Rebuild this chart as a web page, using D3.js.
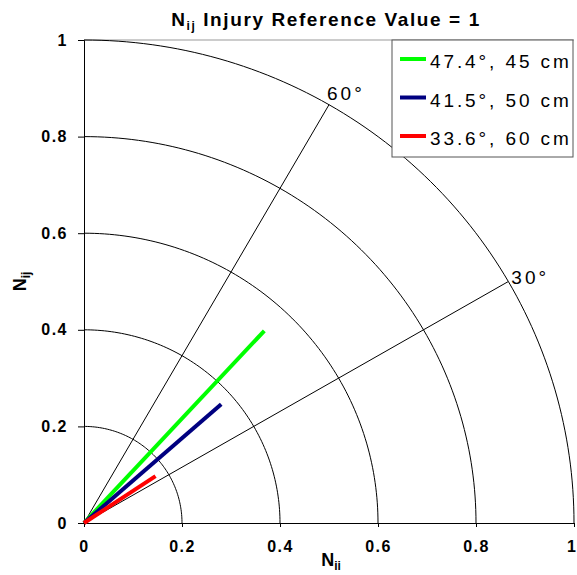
<!DOCTYPE html>
<html>
<head>
<meta charset="utf-8">
<script src="https://cdn.jsdelivr.net/npm/d3@7"></script>
<style>
  body { margin: 0; background: #fff; }
  text { font-family: "Liberation Sans", Arial, sans-serif; }
</style>
</head>
<body>
<div id="chart"></div>
<script>
// values
const ticks = [0, 0.2, 0.4, 0.6, 0.8, 1];
const radii = [0.2, 0.4, 0.6, 0.8, 1];
const guideAngles = [30, 60];
const seriesNames = ['47.4°, 45 cm', '41.5°, 50 cm', '33.6°, 60 cm'];
const seriesColors = ['#00ff00', '#000080', '#ff0000'];
const endX = [0.368, 0.28, 0.146];
const endY = [0.398, 0.246, 0.097];

const W = 577, H = 575;
const margin = {t: 40, r: 3, b: 52, l: 84};
const rad = a => a * Math.PI / 180;

const svg = d3.select('#chart').append('svg')
  .attr('width', W).attr('height', H);

const x = d3.scaleLinear().domain([0, 1]).range([margin.l, W - margin.r]);
const y = d3.scaleLinear().domain([0, 1]).range([H - margin.b, margin.t]);

// top border of plot area
svg.append('line')
  .attr('x1', x(0)).attr('x2', x(1))
  .attr('y1', y(1)).attr('y2', y(1))
  .attr('stroke', '#999').attr('stroke-width', 1);

// quarter circles
const arcLine = d3.line().x(d => x(d[0])).y(d => y(d[1]));
const steps = d3.range(0, 91, 1);
svg.selectAll('.ring')
  .data(radii)
  .enter().append('path')
  .attr('class', 'ring')
  .attr('d', r => arcLine(steps.map(a => [r * Math.cos(rad(a)), r * Math.sin(rad(a))])))
  .attr('fill', 'none').attr('stroke', '#000').attr('stroke-width', 1);

// 30 / 60 degree guides
svg.selectAll('.guide')
  .data(guideAngles)
  .enter().append('line')
  .attr('class', 'guide')
  .attr('x1', x(0)).attr('y1', y(0))
  .attr('x2', a => x(Math.cos(rad(a))))
  .attr('y2', a => y(Math.sin(rad(a))))
  .attr('stroke', '#000').attr('stroke-width', 1);

const labelOffset = {30: [3, 2], 60: [-2, -5]};
svg.selectAll('.guide-label')
  .data(guideAngles)
  .enter().append('text')
  .attr('class', 'guide-label')
  .attr('x', a => x(Math.cos(rad(a))) + labelOffset[a][0])
  .attr('y', a => y(Math.sin(rad(a))) + labelOffset[a][1])
  .attr('font-size', 19).attr('letter-spacing', 3)
  .text(a => a + '°');

// axes
const xAxis = svg.append('g')
  .attr('transform', `translate(0,${y(0)})`)
  .call(d3.axisBottom(x).tickValues(ticks).tickFormat(d3.format('')).tickSizeOuter(0).tickSize(4).tickPadding(14));
const yAxis = svg.append('g')
  .attr('transform', `translate(${x(0)},0)`)
  .call(d3.axisLeft(y).tickValues(ticks).tickFormat(d3.format('')).tickSizeOuter(0).tickSize(6).tickPadding(10));
[xAxis, yAxis].forEach(g => {
  g.select('.domain').attr('stroke', '#000');
  g.selectAll('.tick line').attr('stroke', '#000');
  g.selectAll('.tick text')
    .attr('font-family', '"Liberation Sans", Arial, sans-serif')
    .attr('font-size', 16).attr('font-weight', 'bold').attr('fill', '#000')
    .attr('letter-spacing', 1.5);
});
xAxis.selectAll('.tick text').attr('dy', '0.71em');
xAxis.selectAll('.tick text').filter(d => d === 1).attr('dx', -3).attr('letter-spacing', null);

// series lines from the origin
svg.selectAll('.series')
  .data(seriesNames)
  .enter().append('line')
  .attr('class', 'series')
  .attr('x1', x(0)).attr('y1', y(0))
  .attr('x2', (d, i) => x(endX[i]))
  .attr('y2', (d, i) => y(endY[i]))
  .attr('stroke', (d, i) => seriesColors[i])
  .attr('stroke-width', 4);

// title
const title = svg.append('text')
  .attr('x', 326).attr('y', 26)
  .attr('text-anchor', 'middle')
  .attr('font-size', 19).attr('font-weight', 'bold').attr('letter-spacing', 1.6);
title.append('tspan').text('N');
title.append('tspan').attr('font-size', 12).attr('dy', 4).text('ij');
title.append('tspan').attr('dy', -4).text(' Injury Reference Value = 1');

// axis titles
const xt = svg.append('text')
  .attr('x', 331).attr('y', 566)
  .attr('text-anchor', 'middle')
  .attr('font-size', 18).attr('font-weight', 'bold');
xt.append('tspan').text('N');
xt.append('tspan').attr('font-size', 12).attr('dy', 4).text('ii');

const yt = svg.append('text')
  .attr('transform', `translate(26,${(y(0) + y(1)) / 2}) rotate(-90)`)
  .attr('text-anchor', 'middle')
  .attr('font-size', 18).attr('font-weight', 'bold');
yt.append('tspan').text('N');
yt.append('tspan').attr('font-size', 12).attr('dy', 4).text('ij');

// legend
const legend = svg.append('g').attr('transform', 'translate(392,40)');
legend.append('rect')
  .attr('width', 181).attr('height', 117)
  .attr('fill', '#fff').attr('stroke', '#555').attr('stroke-width', 1);
const rows = legend.selectAll('.row')
  .data(seriesNames)
  .enter().append('g')
  .attr('transform', (d, i) => `translate(0,${19 + i * 38.5})`);
rows.append('line')
  .attr('x1', 8).attr('x2', 34)
  .attr('stroke', (d, i) => seriesColors[i])
  .attr('stroke-width', 4);
rows.append('text')
  .attr('x', 38).attr('y', 9)
  .attr('font-size', 19).attr('letter-spacing', 2.9)
  .text(d => d);
</script>
</body>
</html>
